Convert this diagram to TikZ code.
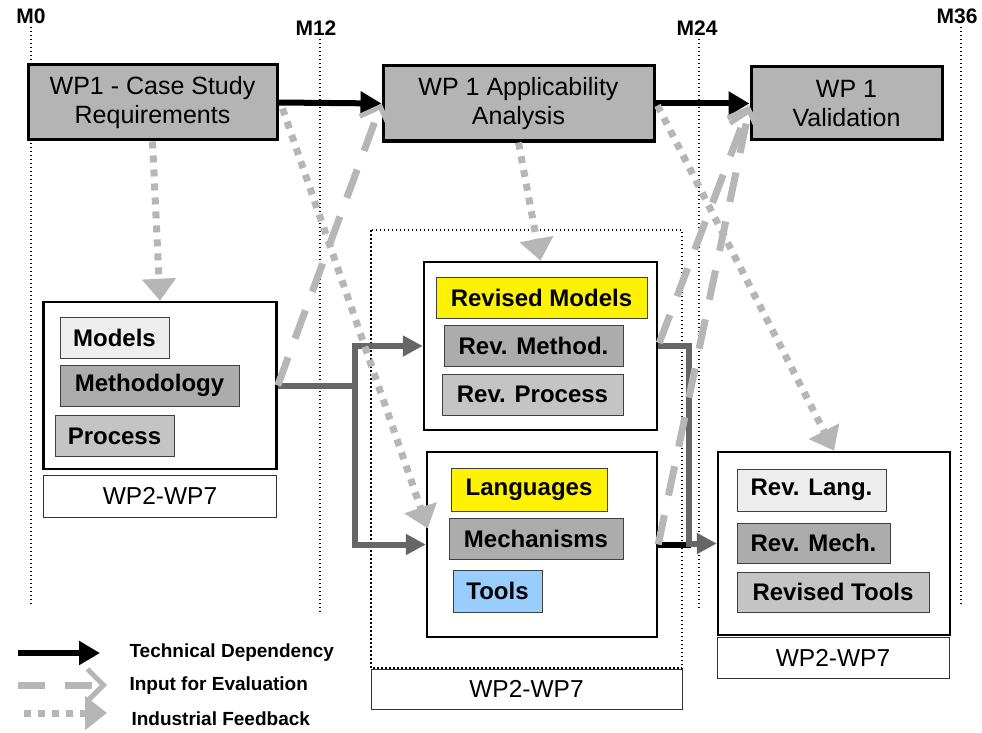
\documentclass[tikz,border=0pt]{standalone}
\usepackage{fontspec}
\setmainfont{Liberation Sans}
\usepackage{xcolor}
\usepackage{tikz}
\usetikzlibrary{arrows.meta, positioning, calc}
\definecolor{wpgray}{RGB}{180,180,180}
\definecolor{midgray}{RGB}{172,172,172}
\definecolor{softgray}{RGB}{196,196,196}
\definecolor{palegray}{RGB}{238,238,238}
\definecolor{linkgray}{RGB}{102,102,102}
\definecolor{hintgray}{RGB}{182,182,182}
\definecolor{toolblue}{RGB}{153,204,255}

\begin{document}
\begin{tikzpicture}[x=1pt, y=-1pt,
    wpbox/.style={draw=black, line width=3pt, fill=wpgray, align=center, inner sep=0pt,
        font=\fontsize{25}{29}\selectfont},
    groupbox/.style={draw=black, line width=2.5pt, fill=white, inner sep=0pt},
    tagbox/.style={draw=black!80, line width=1pt, fill=white, inner sep=0pt,
        font=\fontsize{24.5}{26}\selectfont},
    item/.style={draw=black!75, line width=1pt, inner sep=0pt, minimum height=41pt,
        font=\bfseries\fontsize{24}{26}\selectfont},
    milestone/.style={font=\bfseries\fontsize{21}{22}\selectfont},
    legendtext/.style={font=\bfseries\fontsize{19}{20}\selectfont, anchor=west},
    timeline/.style={line width=2pt, dash pattern=on 1.5pt off 2.5pt},
    techdep/.style={line width=6pt, -{Triangle[width=23pt,length=21pt]}},
    evalin/.style={line width=7pt, hintgray, dash pattern=on 30pt off 20pt,
        -{Straight Barb[length=16pt,width=32pt,line width=5pt]}},
    feedback/.style={line width=7pt, hintgray, dash pattern=on 7pt off 7pt,
        -{Triangle[width=33pt,length=22pt]}},
    flow/.style={line width=6pt, linkgray}]
    \useasboundingbox (0,0) rectangle (982,733);

    % Milestones
    \node[milestone] (m0) at (31,16) {M0};
    \node[milestone] (m12) at (316,28) {M12};
    \node[milestone] (m24) at (697,28) {M24};
    \node[milestone] (m36) at (957,16) {M36};
    \coordinate (m0end) at (31,605);
    \coordinate (m12end) at (320,612);
    \coordinate (m24end) at (699,607);
    \coordinate (m36end) at (961,604);
    \draw[timeline] (m0.south -| m0end) -- (m0end);
    \draw[timeline] (m12.south -| m12end) -- (m12end);
    \draw[timeline] (m24.south -| m24end) -- (m24end);
    \draw[timeline] (m36.south -| m36end) -- (m36end);

    % WP1 boxes
    \node[wpbox, minimum width=249pt, minimum height=75pt] (case) at (152.5,102.5) {WP1 - Case Study\\Requirements};
    \node[wpbox, minimum width=271pt, minimum height=75pt] (appl) at (518.5,103.5) {WP 1 Applicability\\Analysis};
    \node[wpbox, minimum width=191pt, minimum height=73pt] (valid) at (846.5,103.5) {WP 1\\Validation};

    % Middle WP2-WP7 region
    \draw[timeline] (371,230) rectangle (682,668);
    \node[tagbox, minimum width=311pt, minimum height=40pt] (tagmid) at (526.5,689) {WP2-WP7};

    % First results
    \node[groupbox, minimum width=233pt, minimum height=167pt] (wpa) at (160,385.5) {};
    \node[tagbox, minimum width=233pt, minimum height=42pt] (taga) at (160,496) {WP2-WP7};
    \node[item, fill=palegray, minimum width=109pt] (models) at (114.5,337.5) {Models};
    \node[item, fill=midgray, minimum width=179pt] (method) at (149.5,385.5) {Methodology};
    \node[item, fill=softgray, minimum width=119pt] (process) at (114.5,436) {Process};

    % Revised methods
    \node[groupbox, minimum width=233pt, minimum height=168pt] (wpb) at (540.5,346) {};
    \node[item, fill=yellow, minimum width=211pt] (revmodels) at (541.5,298) {Revised Models};
    \node[item, fill=midgray, minimum width=179pt] (revmethod) at (533.5,346) {Rev. Method.};
    \node[item, fill=softgray, minimum width=181pt] (revprocess) at (532.5,394.5) {Rev. Process};

    % Languages and tools
    \node[groupbox, minimum width=230pt, minimum height=185pt] (wpc) at (542,544.5) {};
    \node[item, fill=yellow, minimum width=156pt, minimum height=43pt] (languages) at (529,489.5) {Languages};
    \node[item, fill=midgray, minimum width=174pt] (mechanisms) at (536,538.5) {Mechanisms};
    \node[item, fill=toolblue, minimum width=89pt, minimum height=42pt] (tools) at (497.5,591) {Tools};

    % Revised languages and tools
    \node[groupbox, minimum width=232pt, minimum height=183pt] (wpd) at (834,543.5) {};
    \node[tagbox, minimum width=232pt, minimum height=41pt] (tagd) at (833,657.5) {WP2-WP7};
    \node[item, fill=palegray, minimum width=149pt, minimum height=42pt] (revlang) at (811.5,490) {Rev. Lang.};
    \node[item, fill=midgray, minimum width=153pt, minimum height=40pt] (revmech) at (813.5,543) {Rev. Mech.};
    \node[item, fill=softgray, minimum width=192pt, minimum height=40pt] (revtools) at (833,592) {Revised Tools};

    % Technical flow between the WP2-WP7 results
    \draw[flow] (wpa.east) -- ++(77,0) coordinate (split);
    \draw[flow, -{Triangle[width=20pt,length=20pt]}] (split) |- (wpb.west);
    \draw[flow, -{Triangle[width=20pt,length=20pt]}] (split) |- (wpc.west);
    \draw[line width=6pt] (wpc.east) -- ($(wpc.east)+(33,0)$);
    \draw[flow, -{Triangle[width=20pt,length=20pt]}] (wpb.east) -- ++(31,0) |- (wpd.west);

    % Technical dependencies
    \draw[techdep] (case.east) -- (appl.west);
    \draw[techdep] (appl.east) -- (valid.west);

    % Input for evaluation
    \draw[evalin] (wpa.east) -- (appl.west);
    \draw[evalin] ($(wpb.east)+(1,-3)$) -- ($(valid.west)+(0,2)$);
    \draw[evalin] (wpc.east) -- ($(valid.west)+(0,4)$);

    % Industrial feedback
    \draw[feedback] (case.south) -- (wpa.north);
    \draw[feedback] ($(case.east)+(4,6)$) -- ($(wpc.west)+(2,-16)$);
    \draw[feedback] (appl.south) -- (wpb.north);
    \draw[feedback] ($(appl.east)+(2,2)$) -- (wpd.north);

    % Legend
    \node[legendtext] (ltech) at (126,653) {Technical Dependency};
    \node[legendtext] (leval) at (126,686) {Input for Evaluation};
    \node[legendtext] (lfeed) at (128,719) {Industrial Feedback};
    \coordinate (ltecha) at (18,653);
    \coordinate (ltechb) at (100,653);
    \coordinate (levala) at (18,685);
    \coordinate (levalb) at (107,685);
    \coordinate (lfeeda) at (24,713);
    \coordinate (lfeedb) at (107,713);
    \draw[techdep] (ltecha) -- (ltechb);
    \draw[evalin, dash pattern=on 27pt off 20pt] (levala) -- (levalb);
    \draw[feedback] (lfeeda) -- (lfeedb);
\end{tikzpicture}
\end{document}
